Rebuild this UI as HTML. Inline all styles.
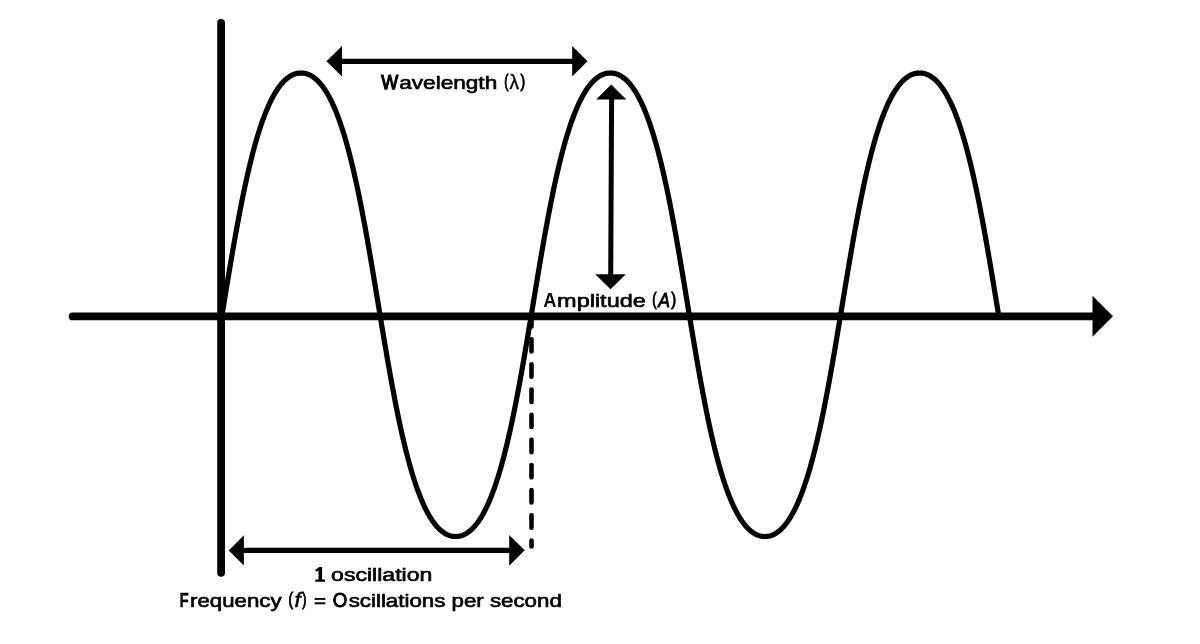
<!DOCTYPE html>
<html><head><meta charset="utf-8"><title>Wave</title>
<style>
html,body{margin:0;padding:0;background:#fff;}
body{width:1200px;height:644px;overflow:hidden;font-family:"Liberation Sans",sans-serif;}
svg{display:block;position:absolute;left:0;top:0;filter:grayscale(1);}
text{font-family:"Liberation Sans",sans-serif;fill:#000;}
</style></head><body>
<svg width="1200" height="644" viewBox="0 0 1200 644">
<rect width="1200" height="644" fill="#fff"/>
<!-- sine wave -->
<path d="M221.38,318.65 L221.95,315.18 L222.53,311.70 L223.10,308.23 L223.68,304.75 L224.25,301.27 L224.82,297.80 L225.40,294.32 L225.97,290.85 L226.54,287.38 L227.12,283.92 L227.70,280.46 L228.27,277.00 L228.85,273.55 L229.43,270.10 L230.01,266.67 L230.59,263.24 L231.17,259.81 L231.76,256.40 L232.34,253.00 L232.93,249.60 L233.52,246.22 L234.11,242.85 L234.71,239.50 L235.30,236.15 L235.90,232.82 L236.50,229.51 L237.11,226.21 L237.71,222.92 L238.32,219.65 L238.93,216.40 L239.55,213.17 L240.17,209.96 L240.79,206.76 L241.42,203.59 L242.05,200.44 L242.68,197.31 L243.31,194.20 L243.96,191.11 L244.60,188.05 L245.25,185.01 L245.90,182.00 L246.56,179.01 L247.22,176.05 L247.89,173.12 L248.56,170.21 L249.24,167.33 L249.92,164.48 L250.61,161.67 L251.30,158.88 L252.00,156.12 L252.70,153.40 L253.41,150.70 L254.12,148.05 L254.84,145.42 L255.57,142.83 L256.30,140.28 L257.04,137.76 L257.78,135.28 L258.54,132.83 L259.29,130.43 L260.06,128.06 L260.83,125.74 L261.61,123.45 L262.39,121.20 L263.19,119.00 L263.99,116.84 L264.80,114.72 L265.61,112.65 L266.43,110.62 L267.26,108.63 L268.10,106.69 L268.95,104.80 L269.80,102.95 L270.67,101.16 L271.54,99.41 L272.42,97.71 L273.31,96.06 L274.20,94.46 L275.11,92.92 L276.03,91.42 L276.95,89.98 L277.88,88.59 L278.83,87.26 L279.78,85.98 L280.74,84.75 L281.71,83.59 L282.69,82.48 L283.69,81.42 L284.69,80.43 L285.70,79.50 L286.72,78.62 L287.75,77.81 L288.80,77.05 L289.85,76.36 L290.91,75.73 L291.99,75.17 L293.08,74.66 L294.17,74.23 L295.28,73.85 L296.40,73.55 L297.53,73.31 L298.68,73.14 L299.83,73.03 L301.00,73.00 L302.17,73.03 L303.32,73.14 L304.47,73.31 L305.60,73.55 L306.72,73.85 L307.83,74.23 L308.92,74.66 L310.01,75.17 L311.09,75.73 L312.15,76.36 L313.20,77.05 L314.25,77.81 L315.28,78.62 L316.30,79.50 L317.31,80.43 L318.31,81.42 L319.31,82.48 L320.29,83.59 L321.26,84.75 L322.22,85.98 L323.17,87.26 L324.12,88.59 L325.05,89.98 L325.97,91.42 L326.89,92.92 L327.80,94.46 L328.69,96.06 L329.58,97.71 L330.46,99.41 L331.33,101.16 L332.20,102.95 L333.05,104.80 L333.90,106.69 L334.74,108.63 L335.57,110.62 L336.39,112.65 L337.20,114.72 L338.01,116.84 L338.81,119.00 L339.61,121.20 L340.39,123.45 L341.17,125.74 L341.94,128.06 L342.71,130.43 L343.46,132.83 L344.22,135.28 L344.96,137.76 L345.70,140.28 L346.43,142.83 L347.16,145.42 L347.88,148.05 L348.59,150.70 L349.30,153.40 L350.00,156.12 L350.70,158.88 L351.39,161.67 L352.08,164.48 L352.76,167.33 L353.44,170.21 L354.11,173.12 L354.78,176.05 L355.44,179.01 L356.10,182.00 L356.75,185.01 L357.40,188.05 L358.04,191.11 L358.69,194.20 L359.32,197.31 L359.95,200.44 L360.58,203.59 L361.21,206.76 L361.83,209.96 L362.45,213.17 L363.07,216.40 L363.68,219.65 L364.29,222.92 L364.89,226.21 L365.50,229.51 L366.10,232.82 L366.70,236.15 L367.29,239.50 L367.89,242.85 L368.48,246.22 L369.07,249.60 L369.66,253.00 L370.24,256.40 L370.83,259.81 L371.41,263.24 L371.99,266.67 L372.57,270.10 L373.15,273.55 L373.73,277.00 L374.30,280.46 L374.88,283.92 L375.46,287.38 L376.03,290.85 L376.60,294.32 L377.18,297.80 L377.75,301.27 L378.32,304.75 L378.90,308.23 L379.47,311.70 L380.05,315.18 L380.62,318.65 L381.19,322.12 L381.77,325.58 L382.35,329.04 L382.92,332.50 L383.50,335.95 L384.08,339.40 L384.66,342.83 L385.24,346.26 L385.82,349.69 L386.41,353.10 L386.99,356.50 L387.58,359.90 L388.17,363.28 L388.76,366.65 L389.36,370.00 L389.95,373.35 L390.55,376.68 L391.15,379.99 L391.76,383.29 L392.36,386.58 L392.97,389.85 L393.58,393.10 L394.20,396.33 L394.82,399.54 L395.44,402.74 L396.07,405.91 L396.70,409.06 L397.33,412.19 L397.96,415.30 L398.61,418.39 L399.25,421.45 L399.90,424.49 L400.55,427.50 L401.21,430.49 L401.87,433.45 L402.54,436.38 L403.21,439.29 L403.89,442.17 L404.57,445.02 L405.26,447.83 L405.95,450.62 L406.65,453.38 L407.35,456.10 L408.06,458.80 L408.77,461.45 L409.49,464.08 L410.22,466.67 L410.95,469.22 L411.69,471.74 L412.43,474.22 L413.19,476.67 L413.94,479.07 L414.71,481.44 L415.48,483.76 L416.26,486.05 L417.04,488.30 L417.84,490.50 L418.64,492.66 L419.45,494.78 L420.26,496.85 L421.08,498.88 L421.91,500.87 L422.75,502.81 L423.60,504.70 L424.45,506.55 L425.32,508.34 L426.19,510.09 L427.07,511.79 L427.96,513.44 L428.85,515.04 L429.76,516.58 L430.68,518.08 L431.60,519.52 L432.53,520.91 L433.48,522.24 L434.43,523.52 L435.39,524.75 L436.36,525.91 L437.34,527.02 L438.34,528.08 L439.34,529.07 L440.35,530.00 L441.37,530.88 L442.40,531.69 L443.45,532.45 L444.50,533.14 L445.56,533.77 L446.64,534.33 L447.73,534.84 L448.82,535.27 L449.93,535.65 L451.05,535.95 L452.18,536.19 L453.33,536.36 L454.48,536.47 L455.65,536.50 L456.82,536.47 L457.97,536.36 L459.12,536.19 L460.25,535.95 L461.37,535.65 L462.48,535.27 L463.57,534.84 L464.66,534.33 L465.74,533.77 L466.80,533.14 L467.85,532.45 L468.90,531.69 L469.93,530.88 L470.95,530.00 L471.96,529.07 L472.96,528.08 L473.96,527.02 L474.94,525.91 L475.91,524.75 L476.87,523.52 L477.82,522.24 L478.77,520.91 L479.70,519.52 L480.62,518.08 L481.54,516.58 L482.45,515.04 L483.34,513.44 L484.23,511.79 L485.11,510.09 L485.98,508.34 L486.85,506.55 L487.70,504.70 L488.55,502.81 L489.39,500.87 L490.22,498.88 L491.04,496.85 L491.85,494.78 L492.66,492.66 L493.46,490.50 L494.26,488.30 L495.04,486.05 L495.82,483.76 L496.59,481.44 L497.36,479.07 L498.11,476.67 L498.87,474.22 L499.61,471.74 L500.35,469.22 L501.08,466.67 L501.81,464.08 L502.53,461.45 L503.24,458.80 L503.95,456.10 L504.65,453.38 L505.35,450.62 L506.04,447.83 L506.73,445.02 L507.41,442.17 L508.09,439.29 L508.76,436.38 L509.43,433.45 L510.09,430.49 L510.75,427.50 L511.40,424.49 L512.05,421.45 L512.69,418.39 L513.34,415.30 L513.97,412.19 L514.60,409.06 L515.23,405.91 L515.86,402.74 L516.48,399.54 L517.10,396.33 L517.72,393.10 L518.33,389.85 L518.94,386.58 L519.54,383.29 L520.15,379.99 L520.75,376.68 L521.35,373.35 L521.94,370.00 L522.54,366.65 L523.13,363.28 L523.72,359.90 L524.31,356.50 L524.89,353.10 L525.48,349.69 L526.06,346.26 L526.64,342.83 L527.22,339.40 L527.80,335.95 L528.38,332.50 L528.95,329.04 L529.53,325.58 L530.11,322.12 L530.68,318.65 L531.25,315.18 L531.83,311.70 L532.40,308.23 L532.98,304.75 L533.55,301.27 L534.12,297.80 L534.70,294.32 L535.27,290.85 L535.84,287.38 L536.42,283.92 L537.00,280.46 L537.57,277.00 L538.15,273.55 L538.73,270.10 L539.31,266.67 L539.89,263.24 L540.47,259.81 L541.06,256.40 L541.64,253.00 L542.23,249.60 L542.82,246.22 L543.41,242.85 L544.01,239.50 L544.60,236.15 L545.20,232.82 L545.80,229.51 L546.41,226.21 L547.01,222.92 L547.62,219.65 L548.23,216.40 L548.85,213.17 L549.47,209.96 L550.09,206.76 L550.72,203.59 L551.35,200.44 L551.98,197.31 L552.61,194.20 L553.26,191.11 L553.90,188.05 L554.55,185.01 L555.20,182.00 L555.86,179.01 L556.52,176.05 L557.19,173.12 L557.86,170.21 L558.54,167.33 L559.22,164.48 L559.91,161.67 L560.60,158.88 L561.30,156.12 L562.00,153.40 L562.71,150.70 L563.42,148.05 L564.14,145.42 L564.87,142.83 L565.60,140.28 L566.34,137.76 L567.08,135.28 L567.84,132.83 L568.59,130.43 L569.36,128.06 L570.13,125.74 L570.91,123.45 L571.69,121.20 L572.49,119.00 L573.29,116.84 L574.10,114.72 L574.91,112.65 L575.73,110.62 L576.56,108.63 L577.40,106.69 L578.25,104.80 L579.10,102.95 L579.97,101.16 L580.84,99.41 L581.72,97.71 L582.61,96.06 L583.50,94.46 L584.41,92.92 L585.33,91.42 L586.25,89.98 L587.18,88.59 L588.13,87.26 L589.08,85.98 L590.04,84.75 L591.01,83.59 L591.99,82.48 L592.99,81.42 L593.99,80.43 L595.00,79.50 L596.02,78.62 L597.05,77.81 L598.10,77.05 L599.15,76.36 L600.21,75.73 L601.29,75.17 L602.38,74.66 L603.47,74.23 L604.58,73.85 L605.70,73.55 L606.83,73.31 L607.98,73.14 L609.13,73.03 L610.30,73.00 L611.47,73.03 L612.62,73.14 L613.77,73.31 L614.90,73.55 L616.02,73.85 L617.13,74.23 L618.22,74.66 L619.31,75.17 L620.39,75.73 L621.45,76.36 L622.50,77.05 L623.55,77.81 L624.58,78.62 L625.60,79.50 L626.61,80.43 L627.61,81.42 L628.61,82.48 L629.59,83.59 L630.56,84.75 L631.52,85.98 L632.47,87.26 L633.42,88.59 L634.35,89.98 L635.27,91.42 L636.19,92.92 L637.10,94.46 L637.99,96.06 L638.88,97.71 L639.76,99.41 L640.63,101.16 L641.50,102.95 L642.35,104.80 L643.20,106.69 L644.04,108.63 L644.87,110.62 L645.69,112.65 L646.50,114.72 L647.31,116.84 L648.11,119.00 L648.91,121.20 L649.69,123.45 L650.47,125.74 L651.24,128.06 L652.01,130.43 L652.76,132.83 L653.52,135.28 L654.26,137.76 L655.00,140.28 L655.73,142.83 L656.46,145.42 L657.18,148.05 L657.89,150.70 L658.60,153.40 L659.30,156.12 L660.00,158.88 L660.69,161.67 L661.38,164.48 L662.06,167.33 L662.74,170.21 L663.41,173.12 L664.08,176.05 L664.74,179.01 L665.40,182.00 L666.05,185.01 L666.70,188.05 L667.34,191.11 L667.99,194.20 L668.62,197.31 L669.25,200.44 L669.88,203.59 L670.51,206.76 L671.13,209.96 L671.75,213.17 L672.37,216.40 L672.98,219.65 L673.59,222.92 L674.19,226.21 L674.80,229.51 L675.40,232.82 L676.00,236.15 L676.59,239.50 L677.19,242.85 L677.78,246.22 L678.37,249.60 L678.96,253.00 L679.54,256.40 L680.13,259.81 L680.71,263.24 L681.29,266.67 L681.87,270.10 L682.45,273.55 L683.03,277.00 L683.60,280.46 L684.18,283.92 L684.76,287.38 L685.33,290.85 L685.90,294.32 L686.48,297.80 L687.05,301.27 L687.62,304.75 L688.20,308.23 L688.77,311.70 L689.35,315.18 L689.92,318.65 L690.49,322.12 L691.07,325.58 L691.65,329.04 L692.22,332.50 L692.80,335.95 L693.38,339.40 L693.96,342.83 L694.54,346.26 L695.12,349.69 L695.71,353.10 L696.29,356.50 L696.88,359.90 L697.47,363.28 L698.06,366.65 L698.66,370.00 L699.25,373.35 L699.85,376.68 L700.45,379.99 L701.06,383.29 L701.66,386.58 L702.27,389.85 L702.88,393.10 L703.50,396.33 L704.12,399.54 L704.74,402.74 L705.37,405.91 L706.00,409.06 L706.63,412.19 L707.26,415.30 L707.91,418.39 L708.55,421.45 L709.20,424.49 L709.85,427.50 L710.51,430.49 L711.17,433.45 L711.84,436.38 L712.51,439.29 L713.19,442.17 L713.87,445.02 L714.56,447.83 L715.25,450.62 L715.95,453.38 L716.65,456.10 L717.36,458.80 L718.07,461.45 L718.79,464.08 L719.52,466.67 L720.25,469.22 L720.99,471.74 L721.73,474.22 L722.49,476.67 L723.24,479.07 L724.01,481.44 L724.78,483.76 L725.56,486.05 L726.34,488.30 L727.14,490.50 L727.94,492.66 L728.75,494.78 L729.56,496.85 L730.38,498.88 L731.21,500.87 L732.05,502.81 L732.90,504.70 L733.75,506.55 L734.62,508.34 L735.49,510.09 L736.37,511.79 L737.26,513.44 L738.15,515.04 L739.06,516.58 L739.98,518.08 L740.90,519.52 L741.83,520.91 L742.78,522.24 L743.73,523.52 L744.69,524.75 L745.66,525.91 L746.64,527.02 L747.64,528.08 L748.64,529.07 L749.65,530.00 L750.67,530.88 L751.70,531.69 L752.75,532.45 L753.80,533.14 L754.86,533.77 L755.94,534.33 L757.03,534.84 L758.12,535.27 L759.23,535.65 L760.35,535.95 L761.48,536.19 L762.63,536.36 L763.78,536.47 L764.95,536.50 L766.12,536.47 L767.27,536.36 L768.42,536.19 L769.55,535.95 L770.67,535.65 L771.78,535.27 L772.87,534.84 L773.96,534.33 L775.04,533.77 L776.10,533.14 L777.15,532.45 L778.20,531.69 L779.23,530.88 L780.25,530.00 L781.26,529.07 L782.26,528.08 L783.26,527.02 L784.24,525.91 L785.21,524.75 L786.17,523.52 L787.12,522.24 L788.07,520.91 L789.00,519.52 L789.92,518.08 L790.84,516.58 L791.75,515.04 L792.64,513.44 L793.53,511.79 L794.41,510.09 L795.28,508.34 L796.15,506.55 L797.00,504.70 L797.85,502.81 L798.69,500.87 L799.52,498.88 L800.34,496.85 L801.15,494.78 L801.96,492.66 L802.76,490.50 L803.56,488.30 L804.34,486.05 L805.12,483.76 L805.89,481.44 L806.66,479.07 L807.41,476.67 L808.17,474.22 L808.91,471.74 L809.65,469.22 L810.38,466.67 L811.11,464.08 L811.83,461.45 L812.54,458.80 L813.25,456.10 L813.95,453.38 L814.65,450.62 L815.34,447.83 L816.03,445.02 L816.71,442.17 L817.39,439.29 L818.06,436.38 L818.73,433.45 L819.39,430.49 L820.05,427.50 L820.70,424.49 L821.35,421.45 L821.99,418.39 L822.64,415.30 L823.27,412.19 L823.90,409.06 L824.53,405.91 L825.16,402.74 L825.78,399.54 L826.40,396.33 L827.02,393.10 L827.63,389.85 L828.24,386.58 L828.84,383.29 L829.45,379.99 L830.05,376.68 L830.65,373.35 L831.24,370.00 L831.84,366.65 L832.43,363.28 L833.02,359.90 L833.61,356.50 L834.19,353.10 L834.78,349.69 L835.36,346.26 L835.94,342.83 L836.52,339.40 L837.10,335.95 L837.68,332.50 L838.25,329.04 L838.83,325.58 L839.41,322.12 L839.98,318.65 L840.55,315.18 L841.13,311.70 L841.70,308.23 L842.27,304.75 L842.85,301.27 L843.42,297.80 L844.00,294.32 L844.57,290.85 L845.14,287.38 L845.72,283.92 L846.30,280.46 L846.87,277.00 L847.45,273.55 L848.03,270.10 L848.61,266.67 L849.19,263.24 L849.77,259.81 L850.36,256.40 L850.94,253.00 L851.53,249.60 L852.12,246.22 L852.71,242.85 L853.31,239.50 L853.90,236.15 L854.50,232.82 L855.10,229.51 L855.71,226.21 L856.31,222.92 L856.92,219.65 L857.53,216.40 L858.15,213.17 L858.77,209.96 L859.39,206.76 L860.02,203.59 L860.65,200.44 L861.28,197.31 L861.91,194.20 L862.56,191.11 L863.20,188.05 L863.85,185.01 L864.50,182.00 L865.16,179.01 L865.82,176.05 L866.49,173.12 L867.16,170.21 L867.84,167.33 L868.52,164.48 L869.21,161.67 L869.90,158.88 L870.60,156.12 L871.30,153.40 L872.01,150.70 L872.72,148.05 L873.44,145.42 L874.17,142.83 L874.90,140.28 L875.64,137.76 L876.38,135.28 L877.14,132.83 L877.89,130.43 L878.66,128.06 L879.43,125.74 L880.21,123.45 L880.99,121.20 L881.79,119.00 L882.59,116.84 L883.40,114.72 L884.21,112.65 L885.03,110.62 L885.86,108.63 L886.70,106.69 L887.55,104.80 L888.40,102.95 L889.27,101.16 L890.14,99.41 L891.02,97.71 L891.91,96.06 L892.80,94.46 L893.71,92.92 L894.63,91.42 L895.55,89.98 L896.48,88.59 L897.43,87.26 L898.38,85.98 L899.34,84.75 L900.31,83.59 L901.29,82.48 L902.29,81.42 L903.29,80.43 L904.30,79.50 L905.32,78.62 L906.35,77.81 L907.40,77.05 L908.45,76.36 L909.51,75.73 L910.59,75.17 L911.68,74.66 L912.77,74.23 L913.88,73.85 L915.00,73.55 L916.13,73.31 L917.28,73.14 L918.43,73.03 L919.60,73.00 L920.77,73.03 L921.92,73.14 L923.07,73.31 L924.20,73.55 L925.32,73.85 L926.43,74.23 L927.52,74.66 L928.61,75.17 L929.69,75.73 L930.75,76.36 L931.80,77.05 L932.85,77.81 L933.88,78.62 L934.90,79.50 L935.91,80.43 L936.91,81.42 L937.91,82.48 L938.89,83.59 L939.86,84.75 L940.82,85.98 L941.77,87.26 L942.72,88.59 L943.65,89.98 L944.57,91.42 L945.49,92.92 L946.40,94.46 L947.29,96.06 L948.18,97.71 L949.06,99.41 L949.93,101.16 L950.80,102.95 L951.65,104.80 L952.50,106.69 L953.34,108.63 L954.17,110.62 L954.99,112.65 L955.80,114.72 L956.61,116.84 L957.41,119.00 L958.21,121.20 L958.99,123.45 L959.77,125.74 L960.54,128.06 L961.31,130.43 L962.06,132.83 L962.82,135.28 L963.56,137.76 L964.30,140.28 L965.03,142.83 L965.76,145.42 L966.48,148.05 L967.19,150.70 L967.90,153.40 L968.60,156.12 L969.30,158.88 L969.99,161.67 L970.68,164.48 L971.36,167.33 L972.04,170.21 L972.71,173.12 L973.38,176.05 L974.04,179.01 L974.70,182.00 L975.35,185.01 L976.00,188.05 L976.64,191.11 L977.29,194.20 L977.92,197.31 L978.55,200.44 L979.18,203.59 L979.81,206.76 L980.43,209.96 L981.05,213.17 L981.67,216.40 L982.28,219.65 L982.89,222.92 L983.49,226.21 L984.10,229.51 L984.70,232.82 L985.30,236.15 L985.89,239.50 L986.49,242.85 L987.08,246.22 L987.67,249.60 L988.26,253.00 L988.84,256.40 L989.43,259.81 L990.01,263.24 L990.59,266.67 L991.17,270.10 L991.75,273.55 L992.33,277.00 L992.90,280.46 L993.48,283.92 L994.06,287.38 L994.63,290.85 L995.20,294.32 L995.78,297.80 L996.35,301.27 L996.92,304.75 L997.50,308.23 L998.07,311.70 L998.65,315.18" fill="none" stroke="#000" stroke-width="5.2" stroke-linejoin="round" stroke-linecap="butt"/>
<!-- vertical axis -->
<line x1="221.1" y1="23" x2="221.1" y2="572.8" stroke="#000" stroke-width="7.8" stroke-linecap="round"/>
<!-- horizontal axis -->
<line x1="72.6" y1="316.4" x2="1094" y2="316.4" stroke="#000" stroke-width="7.8" stroke-linecap="round"/>
<polygon points="1092.5,295.8 1113,316.3 1092.5,336.8" fill="#000"/>
<!-- wavelength arrow -->
<line x1="340" y1="61.3" x2="574" y2="61.3" stroke="#000" stroke-width="5.2"/>
<polygon points="326.5,61.2 342,46.1 342,76.4" fill="#000"/>
<polygon points="587.5,61.2 572.2,46.1 572.2,76.4" fill="#000"/>
<!-- amplitude arrow -->
<line x1="611.6" y1="98" x2="610.7" y2="276" stroke="#000" stroke-width="5"/>
<polygon points="611.2,84.4 596.2,99.6 626.4,99.6" fill="#000"/>
<polygon points="610.6,289.2 595.2,274.2 625.8,274.2" fill="#000"/>
<!-- oscillation arrow -->
<line x1="242" y1="550.3" x2="511" y2="550.3" stroke="#000" stroke-width="5.2"/>
<polygon points="228.8,550.4 243.9,535.2 243.9,565.6" fill="#000"/>
<polygon points="524.7,550.3 509.2,535.1 509.2,565.7" fill="#000"/>
<!-- dashed line -->
<line x1="531.5" y1="314.05" x2="531.5" y2="546.5" stroke="#000" stroke-width="4.6" stroke-linecap="round" stroke-dasharray="12.35 12.81"/>
<path d="M319.3,566.9 L322.1,566.9 L322.1,579.5 L325.0,579.5 L325.0,581.8 L315.3,581.8 L315.3,579.5 L318.5,579.5 L318.5,570.2 L316.5,571.7 L315.1,570.0 Z" fill="#000"/>
<rect x="314.7" y="597.9" width="10.6" height="2.0" fill="#000"/><rect x="314.7" y="602.3" width="10.6" height="2.0" fill="#000"/>
<!-- labels -->
<text x="381.21" y="89.2" font-size="20.2" style="font-weight:normal;stroke:#000;stroke-width:1.25px;" textLength="16.95" lengthAdjust="spacingAndGlyphs">W</text>
<text x="399.29" y="89.2" font-size="18.2" style="font-weight:normal;stroke:#000;stroke-width:0.62px;" textLength="97.93" lengthAdjust="spacingAndGlyphs">avelength</text>
<text x="504.3" y="87.3" font-size="17.8" style="font-weight:normal;stroke:#000;stroke-width:1.05px;" textLength="4.14" lengthAdjust="spacingAndGlyphs">(</text>
<text x="509.52" y="89.2" font-size="20.2" style="font-weight:normal;stroke:#000;stroke-width:0.4px;" textLength="9.46" lengthAdjust="spacingAndGlyphs">λ</text>
<text x="520.46" y="87.3" font-size="17.8" style="font-weight:normal;stroke:#000;stroke-width:1.05px;" textLength="4.66" lengthAdjust="spacingAndGlyphs">)</text>
<text x="543.26" y="307.2" font-size="20.2" style="font-weight:bold;" textLength="13.24" lengthAdjust="spacingAndGlyphs">A</text>
<text x="557.12" y="307.2" font-size="18.2" style="font-weight:normal;stroke:#000;stroke-width:0.62px;" textLength="88.67" lengthAdjust="spacingAndGlyphs">mplitude</text>
<text x="652.17" y="305.3" font-size="17.8" style="font-weight:normal;stroke:#000;stroke-width:1.05px;" textLength="4.33" lengthAdjust="spacingAndGlyphs">(</text>
<text x="658.14" y="307.2" font-size="20.2" style="font-style:italic;stroke:#000;stroke-width:0.8px;" textLength="11.68" lengthAdjust="spacingAndGlyphs">A</text>
<text x="671.21" y="305.3" font-size="17.8" style="font-weight:normal;stroke:#000;stroke-width:1.05px;" textLength="4.92" lengthAdjust="spacingAndGlyphs">)</text>
<text x="331.09" y="581.3" font-size="18.2" style="font-weight:normal;stroke:#000;stroke-width:0.62px;" textLength="101.34" lengthAdjust="spacingAndGlyphs">oscillation</text>
<text x="179.5" y="606.7" font-size="20.2" style="font-weight:bold;stroke:#000;stroke-width:0.3px;" textLength="9.3" lengthAdjust="spacingAndGlyphs">F</text>
<text x="190.09" y="606.7" font-size="18.2" style="font-weight:normal;stroke:#000;stroke-width:0.62px;" textLength="91.44" lengthAdjust="spacingAndGlyphs">requency</text>
<text x="288.49" y="604.8" font-size="17.8" style="font-weight:normal;stroke:#000;stroke-width:1.05px;" textLength="4.5" lengthAdjust="spacingAndGlyphs">(</text>
<text x="294.45" y="606.7" font-size="20.2" style="font-style:italic;stroke:#000;stroke-width:0.5px;" textLength="6.18" lengthAdjust="spacingAndGlyphs">f</text>
<text x="302.35" y="604.8" font-size="17.8" style="font-weight:normal;stroke:#000;stroke-width:1.05px;" textLength="4.15" lengthAdjust="spacingAndGlyphs">)</text>
<text x="332.68" y="606.7" font-size="20.2" style="font-weight:normal;stroke:#000;stroke-width:0.9px;" textLength="14.5" lengthAdjust="spacingAndGlyphs">O</text>
<text x="348.72" y="606.7" font-size="18.2" style="font-weight:normal;stroke:#000;stroke-width:0.62px;" textLength="213.1" lengthAdjust="spacingAndGlyphs">scillations per second</text>
</svg>
</body></html>
